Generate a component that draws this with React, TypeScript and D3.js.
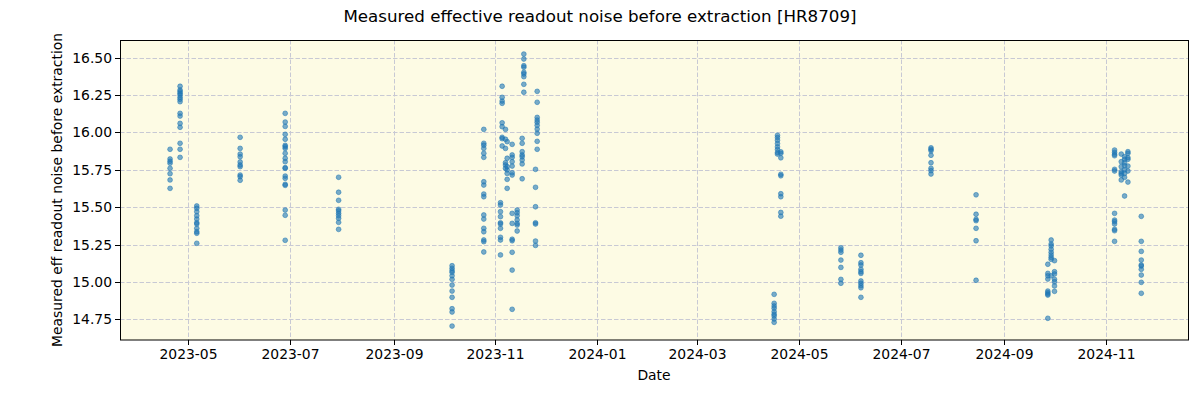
import React from "react";
import * as d3 from "d3";

const title = "Measured effective readout noise before extraction [HR8709]";
const xLabel = "Date";
const yLabel = "Measured eff readout noise before extraction";

const sessionDates = [
  "2023-04-20", "2023-04-26", "2023-05-06", "2023-06-01", "2023-06-28", "2023-07-30",
  "2023-10-06", "2023-10-25", "2023-11-04", "2023-11-05", "2023-11-07", "2023-11-08",
  "2023-11-11", "2023-11-14", "2023-11-17", "2023-11-18", "2023-11-25", "2023-11-26",
  "2024-04-16", "2024-04-18", "2024-04-20", "2024-05-26", "2024-06-07", "2024-07-19",
  "2024-08-15", "2024-09-27", "2024-09-29", "2024-10-01", "2024-11-06", "2024-11-10",
  "2024-11-12", "2024-11-14", "2024-11-22",
];

const sessionValues: number[][] = [
  [15.887, 15.822, 15.807, 15.794, 15.76, 15.724, 15.682, 15.626],
  [16.308, 16.283, 16.272, 16.261, 16.25, 16.234, 16.221, 16.205, 16.127, 16.109, 16.06, 16.034, 15.927, 15.887, 15.833],
  [15.508, 15.493, 15.47, 15.443, 15.421, 15.396, 15.388, 15.359, 15.336, 15.326, 15.259],
  [15.967, 15.893, 15.855, 15.837, 15.802, 15.782, 15.771, 15.715, 15.704, 15.68],
  [16.127, 16.069, 16.04, 15.987, 15.954, 15.913, 15.904, 15.893, 15.86, 15.827, 15.804, 15.764, 15.76, 15.708, 15.693, 15.653, 15.646, 15.481, 15.446, 15.279],
  [15.7, 15.6, 15.546, 15.486, 15.475, 15.459, 15.443, 15.426, 15.399, 15.352],
  [15.109, 15.092, 15.076, 15.065, 15.042, 15.018, 14.98, 14.94, 14.898, 14.822, 14.8, 14.706],
  [16.02, 15.927, 15.914, 15.893, 15.86, 15.833, 15.67, 15.648, 15.588, 15.57, 15.448, 15.421, 15.359, 15.336, 15.281, 15.27, 15.201],
  [15.53, 15.515, 15.47, 15.437, 15.396, 15.388, 15.359, 15.299, 15.281, 15.181],
  [16.308, 16.234, 16.209, 16.194, 16.064, 16.038, 15.967, 15.958, 15.909],
  [16.02, 15.954, 15.893, 15.797, 15.782, 15.76],
  [15.938, 15.827, 15.771, 15.749, 15.726, 15.686, 15.626],
  [15.92, 15.849, 15.833, 15.804, 15.775, 15.73, 15.715, 15.459, 15.392, 15.286, 15.276, 15.199, 15.08, 14.818],
  [15.481, 15.463, 15.443, 15.415, 15.392, 15.381, 15.341],
  [15.96, 15.927, 15.871, 15.849, 15.837, 15.815, 15.789, 15.69],
  [16.523, 16.49, 16.445, 16.435, 16.401, 16.39, 16.372, 16.321, 16.268],
  [15.753, 15.633, 15.503, 15.396, 15.388, 15.274, 15.245],
  [16.274, 16.201, 16.1, 16.082, 16.067, 16.047, 16.022, 15.994, 15.94, 15.887],
  [14.918, 14.858, 14.84, 14.825, 14.802, 14.785, 14.773, 14.753, 14.731],
  [15.98, 15.965, 15.947, 15.925, 15.903, 15.885, 15.865, 15.855],
  [15.87, 15.86, 15.83, 15.72, 15.71, 15.59, 15.57, 15.465, 15.44],
  [15.229, 15.214, 15.199, 15.147, 15.098, 15.018, 14.992],
  [15.179, 15.129, 15.114, 15.085, 15.069, 15.058, 15.007, 14.992, 14.976, 14.962, 14.898],
  [15.897, 15.887, 15.877, 15.847, 15.797, 15.76, 15.744, 15.722],
  [15.583, 15.453, 15.419, 15.41, 15.359, 15.276, 15.012],
  [15.119, 15.058, 15.042, 15.02, 14.94, 14.929, 14.92, 14.913, 14.758],
  [15.281, 15.254, 15.241, 15.219, 15.199, 15.181, 15.165, 15.152, 15.042],
  [15.143, 15.069, 15.054, 15.018, 15.002, 14.974, 14.938],
  [15.882, 15.867, 15.853, 15.844, 15.753, 15.742, 15.459, 15.414, 15.403, 15.388, 15.352, 15.343, 15.272],
  [15.855, 15.804, 15.771, 15.737, 15.726, 15.715, 15.682],
  [15.837, 15.82, 15.797, 15.777, 15.749, 15.726, 15.7, 15.575],
  [15.871, 15.86, 15.831, 15.82, 15.775, 15.742, 15.668],
  [15.439, 15.272, 15.205, 15.147, 15.114, 15.107, 15.085, 15.047, 14.998, 14.925],
];

const xTickDates = ["2023-05-01", "2023-07-01", "2023-09-01", "2023-11-01", "2024-01-01", "2024-03-01", "2024-05-01", "2024-07-01", "2024-09-01", "2024-11-01"];
const yTicks = [14.75, 15.0, 15.25, 15.5, 15.75, 16.0, 16.25, 16.5];
const xDomain = ["2023-03-21", "2024-12-20"];
const yDomain = [14.613, 16.617];

const parse = d3.utcParse("%Y-%m-%d");
const fmt = d3.utcFormat("%Y-%m");

export default function App() {
  const W = 1200, H = 400;
  const left = 120, right = 1188, top = 40, bottom = 340;
  const x = d3.scaleUtc().domain(xDomain.map((s) => parse(s) as Date)).range([left, right]);
  const y = d3.scaleLinear().domain(yDomain).range([bottom, top]);

  const points: { cx: number; cy: number }[] = [];
  sessionDates.forEach((ds, i) => {
    const d = parse(ds) as Date;
    sessionValues[i].forEach((v) => points.push({ cx: x(d), cy: y(v) }));
  });

  const font = "DejaVu Sans, sans-serif";
  return (
    <svg width={W} height={H} style={{ display: "block", position: "absolute", left: 0, top: 0 }} fontFamily={font}>
      <rect x={0} y={0} width={W} height={H} fill="#ffffff" />
      <rect x={left} y={top} width={right - left} height={bottom - top} fill="#fdfbe4" />
      {xTickDates.map((s) => {
        const xx = Math.round(x(parse(s) as Date)) + 0.5;
        return <line key={"gx" + s} x1={xx} x2={xx} y1={top} y2={bottom} stroke="#c8c9d4" strokeWidth={1} strokeDasharray="4.5,2" />;
      })}
      {yTicks.map((t) => {
        const yy = Math.round(y(t)) + 0.5;
        return <line key={"gy" + t} x1={left} x2={right} y1={yy} y2={yy} stroke="#c8c9d4" strokeWidth={1} strokeDasharray="4.5,2" />;
      })}
      {points.map((p, i) => (
        <circle key={i} cx={p.cx} cy={p.cy} r={2.4} fill="#1f77b4" fillOpacity={0.6} stroke="#1f77b4" strokeOpacity={0.6} strokeWidth={0.9} />
      ))}
      <rect x={left + 0.5} y={top + 0.5} width={right - left} height={bottom - top - 0.5} fill="none" stroke="#000" strokeWidth={1} />
      {xTickDates.map((s) => {
        const xx = Math.round(x(parse(s) as Date)) + 0.5;
        return (
          <g key={"tx" + s}>
            <line x1={xx} x2={xx} y1={bottom} y2={bottom + 5} stroke="#000" strokeWidth={1} />
            <text x={xx} y={bottom + 19} textAnchor="middle" fontSize={13.9} fill="#000">{fmt(parse(s) as Date)}</text>
          </g>
        );
      })}
      {yTicks.map((t) => {
        const yy = Math.round(y(t)) + 0.5;
        return (
          <g key={"ty" + t}>
            <line x1={left - 5} x2={left} y1={yy} y2={yy} stroke="#000" strokeWidth={1} />
            <text x={left - 8} y={yy} dy="0.35em" textAnchor="end" fontSize={13.9} fill="#000">{t.toFixed(2)}</text>
          </g>
        );
      })}
      <text x={(left + right) / 2} y={380} textAnchor="middle" fontSize={13.9} fill="#000">{xLabel}</text>
      <text transform={`translate(62,${(top + bottom) / 2}) rotate(-90)`} textAnchor="middle" fontSize={13.9} fill="#000">{yLabel}</text>
      <text x={600} y={22} textAnchor="middle" fontSize={16.7} fill="#000">{title}</text>
    </svg>
  );
}
